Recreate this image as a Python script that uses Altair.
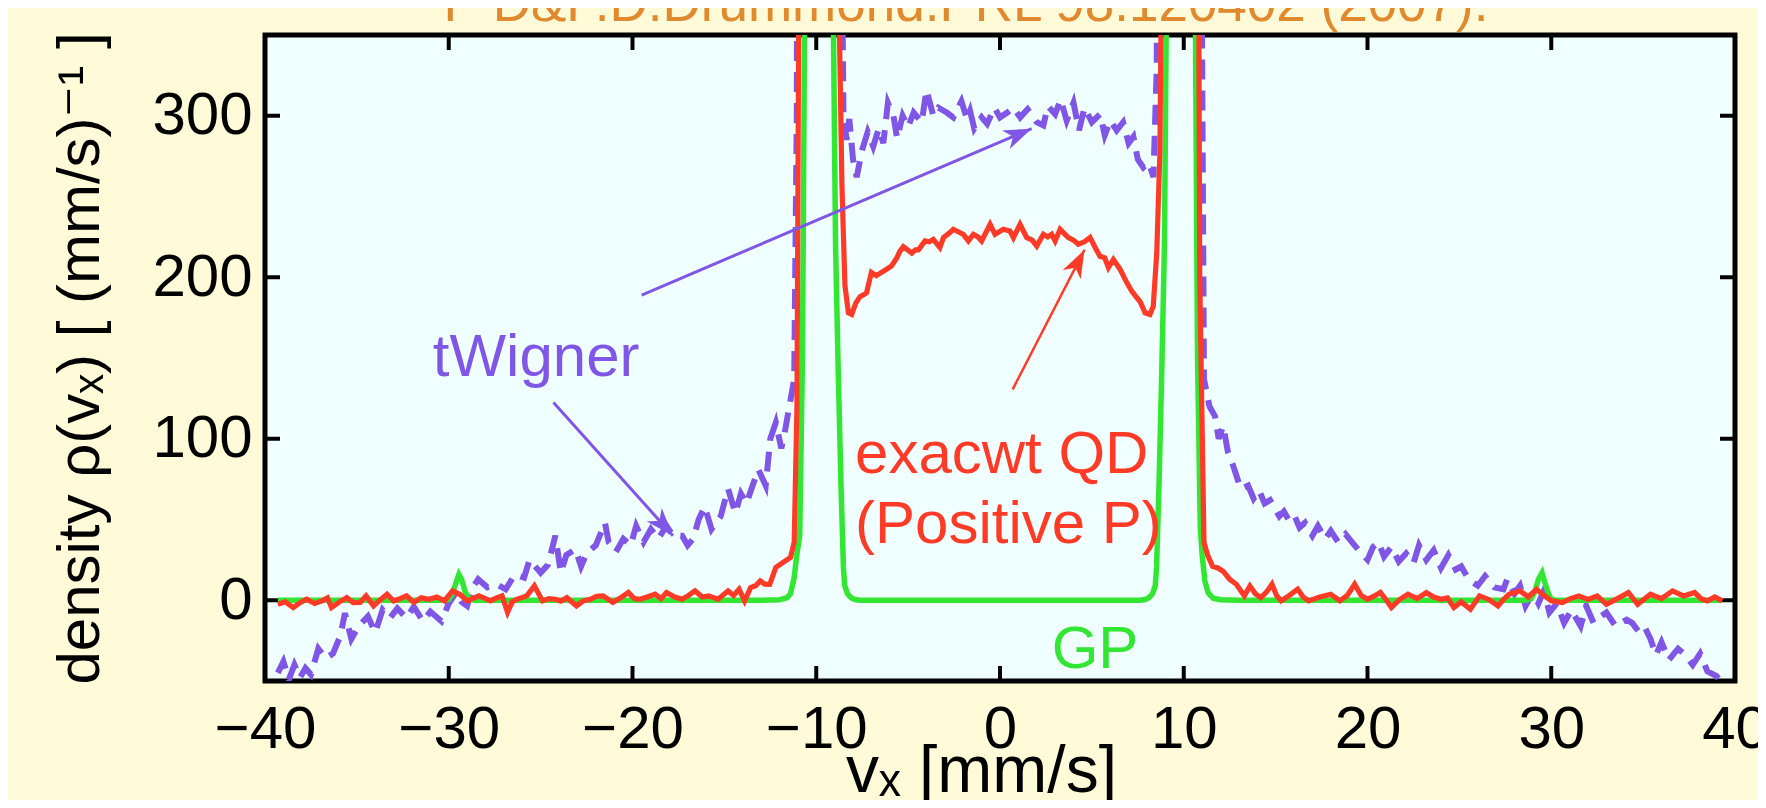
import math
import altair as alt
import pandas as pd

# ---------------- data ----------------
X_TICKS = [-40, -30, -20, -10, 0, 10, 20, 30, 40]
Y_TICKS = [0, 100, 200, 300]

# GP (green, solid)
gp_x = [-39.3, -36, -32, -30.3, -30.0, -29.8, -29.6, -29.45, -29.3, -29.1, -28.9, -28.6, -24, -18, -13,
        -12, -11.6, -11.4, -11.2, -11.07, -10.9, -10.75, -10.6, -10.4, -10.0, -9.5, -9.2, -9.07, -8.95,
        -8.8, -8.65, -8.52, -8.45, -8.3, -8.1, -7.9, -7.6, -4, 0, 4, 7.6, 7.9, 8.1, 8.3, 8.45, 8.52, 8.65,
        8.8, 8.95, 9.05, 9.2, 9.5, 10.0, 10.4, 10.6, 10.75, 10.9, 11.0, 11.15, 11.33, 11.6, 12, 13, 18, 24,
        28.6, 28.9, 29.1, 29.3, 29.5, 29.65, 29.85, 30.0, 30.3, 32, 36, 39.3]
gp_y = [0, 0, 0, 0, 0.5, 4, 11, 16, 13, 5, 1, 0, 0, 0, 0,
        0.3, 1.5, 4, 14, 27, 40, 150, 420, 1500, 2500, 1800, 700, 360, 220,
        140, 70, 20, 9, 4, 1.5, 0.4, 0, 0, 0, 0, 0, 0.4, 1.5, 4, 9, 20, 70,
        140, 220, 360, 700, 1800, 2500, 1500, 420, 150, 45, 28, 12, 4.5, 1.2, 0.3, 0, 0, 0,
        0, 1, 5, 13, 17, 11, 4, 0.5, 0, 0, 0, 0]

# exact QD, positive P (red, solid)
red_x = [-39.3, -38.9, -38.46, -38.1, -37.73, -37.3, -36.9, -36.6, -36.38, -35.95, -35.55, -35.2, -34.82,
         -34.5, -34.09, -33.7, -33.36, -33.0, -32.73, -32.3, -31.9, -31.5, -31.07, -30.65, -30.23, -29.8,
         -29.4, -29.0, -28.7, -28.36, -28.0, -27.73, -27.4, -27.1, -26.8, -26.55, -26.3, -25.75, -25.34,
         -24.9, -24.55, -24.2, -23.9, -23.57, -23.05, -22.7, -22.3, -21.95, -21.6, -21.07, -20.65, -20.23,
         -19.9, -19.6, -19.2, -18.77, -18.45, -18.15, -17.7, -17.3, -16.95, -16.6, -16.2, -15.86, -15.34,
         -14.8, -14.5, -14.2, -13.9, -13.57, -13.3, -13.05, -12.8, -12.53, -12.2, -11.8, -11.4, -11.2,
         -11.05, -10.9, -10.6, -10.0, -9.2, -8.9, -8.75, -8.6, -8.44, -8.25, -8.07, -7.85, -7.62, -7.45,
         -7.26, -7.0, -6.73, -6.45, -6.17, -5.9, -5.62, -5.45, -5.26, -4.8, -4.6, -4.44, -4.08, -3.85,
         -3.63, -3.27, -3.08, -2.8, -2.54, -2.25, -2.0, -1.72, -1.45, -1.2, -1.0, -0.54, -0.27, 0.18,
         0.54, 0.73, 1.09, 1.45, 1.75, 2.0, 2.36, 2.6, 2.81, 3.0, 3.27, 3.5, 3.72, 4.0, 4.26, 4.6, 4.9,
         5.2, 5.44, 5.7, 5.9, 6.17, 6.35, 6.53, 6.9, 7.17, 7.4, 7.62, 7.9, 8.16, 8.34, 8.53, 8.7, 8.8,
         8.95, 9.3, 10.0, 10.5, 10.75, 10.87, 11.1, 11.3, 11.57, 11.85, 12.14, 12.5, 12.86, 13.3, 13.6,
         13.9, 14.2, 14.5, 14.8, 15.05, 15.3, 15.75, 16.2, 16.5, 16.8, 17.4, 18.0, 18.5, 18.9, 19.3,
         19.65, 20.0, 20.35, 20.7, 21.0, 21.3, 21.75, 22.2, 22.7, 23.2, 23.6, 24.0, 24.35, 24.7, 25.1,
         25.6, 26.1, 26.6, 27.1, 27.4, 27.7, 28.3, 28.75, 29.2, 29.6, 30.0, 30.6, 31.05, 31.5, 32.0,
         32.5, 33.0, 33.6, 34.2, 34.7, 35.4, 36.0, 36.6, 37.2, 37.8, 38.15, 38.5, 38.9, 39.3]
red_y = [-2.5, -1.0, -4.5, -1.5, 0.6, -2.0, -0.4, 1.5, -4.5, -1.0, 1.6, -1.5, -1.4,
         2.7, -3.5, 0.5, 3.7, -0.5, 0.6, 2.7, -1.4, 1.5, 0.6, 2.0, -0.4, 5.8,
         3.7, -0.4, 1.0, 2.7, 1.0, -0.4, 1.5, 2.7, -7.5, -1.0, 0.6, 2.7, 8.9,
         -0.4, 1.0, 0.6, -0.5, 1.6, -3.5, -0.5, 0.6, 2.5, 2.7, -1.4, 1.5, 4.8,
         1.0, 0.6, 2.0, 3.7, 1.0, 4.8, 2.0, 0.6, 3.0, 5.8, 2.0, 2.7, 0.6,
         5.8, 3.0, 6.8, -0.4, 7.8, 9.0, 12, 10, 9.9, 20.3, 23.5, 26.6, 36,
         120, 500, 2500, 3000, 2500, 600, 360, 256, 195, 178, 177, 184, 188, 189,
         190.5, 203, 201, 203, 205, 207, 212, 216, 219, 215, 217, 217, 222.5, 222,
         223.5, 218.4, 224.6, 227, 229.7, 228, 226.6, 222.5, 226.6, 225, 222.5, 232.8, 226.6, 229.7,
         228.6, 224.5, 232.8, 224.6, 223, 219.3, 226.6, 225, 226.6, 222.5, 229.7, 227, 224.5, 223, 220.4, 222, 224.6,
         218, 213, 212, 206, 211, 208, 205, 196.7, 191.5, 188, 185, 178, 177, 182, 215, 277, 400,
         800, 2500, 3000, 2500, 600, 200, 35.7, 28, 21, 20, 18, 13, 9.9, 2.7, 8.8,
         4.0, 1.6, 5.0, 9.9, 3.0, -0.4, 3.0, 6.8, 2.0, -0.4, 2.0, 3.7, -0.4, 3.0, 9.9,
         3.0, 0.6, 2.5, 4.8, 0.5, -4.5, 0.5, 3.7, 1.0, 4.8, 2.0, 0.6, 1.5, -4.5, -1.0,
         -5.6, 2.7, 0.5, -3.5, 0.5, 3.7, 5.8, 2.0, 6.8, 3.0, -0.4, -1.4, 1.0, 2.7, 0.5,
         2.7, -2.5, 1.0, 4.8, -2.5, 3.7, 1.0, 5.8, 2.7, 4.8, 1.0, -0.4, 2.0, -0.4]

# truncated Wigner (purple, dashed)
tw_x = [-39.3, -39.0, -38.7, -38.4, -38.1, -37.8, -37.5, -37.1, -36.7, -36.3, -35.9, -35.65, -35.3, -34.9,
        -34.4, -34.0, -33.6, -33.2, -32.8, -32.3, -31.9, -31.4, -31.0, -30.4, -30.0, -29.6, -29.3, -29.0,
        -28.7, -28.4, -27.9, -27.4, -26.9, -26.4, -25.9, -25.6, -25.0, -24.6, -24.2, -23.9, -23.6, -23.1,
        -22.8, -22.5, -22.0, -21.5, -21.3, -20.9, -20.5, -20.1, -19.8, -19.4, -19.0, -18.6, -18.15, -17.8,
        -17.3, -17.0, -16.7, -16.4, -16.07, -15.7, -15.2, -14.8, -14.4, -14.1, -13.8, -13.4, -13.15, -12.75,
        -12.5, -12.2, -11.9, -11.7, -11.4, -11.2, -11.06, -10.9, -10.5, -10.0, -9.3, -8.8, -8.6, -8.52,
        -8.35, -8.2, -8.0, -7.8, -7.5, -7.2, -6.9, -6.6, -6.35, -6.1, -5.8, -5.6, -5.3, -5.0, -4.7, -4.26,
        -4.0, -3.63, -3.35, -2.9, -2.54, -2.1, -1.8, -1.63, -1.4, -1.0, -0.7, -0.3, 0.0, 0.4, 0.73, 1.1,
        1.5, 2.0, 2.36, 2.6, 3.0, 3.3, 3.63, 4.0, 4.3, 4.6, 5.0, 5.45, 5.7, 6.0, 6.35, 6.7, 7.0, 7.26,
        7.5, 7.8, 8.1, 8.35, 8.53, 8.7, 9.2, 10.0, 10.6, 10.97, 11.1, 11.4, 11.7, 11.9, 12.15, 12.4,
        12.7, 12.9, 13.1, 13.5, 13.8, 14.1, 14.4, 14.7, 14.9, 15.2, 15.45, 15.7, 16.0, 16.3, 16.6, 17.0,
        17.3, 17.7, 18.0, 18.4, 18.8, 19.3, 19.6, 20.0, 20.3, 20.6, 20.9, 21.3, 21.7, 22.1, 22.5, 22.8,
        23.2, 23.6, 24.0, 24.4, 24.8, 25.1, 25.5, 26.0, 26.4, 26.9, 27.4, 27.6, 28.0, 28.3, 28.6, 29.0,
        29.3, 29.6, 29.9, 30.3, 30.7, 31.1, 31.6, 31.9, 32.3, 32.7, 33.0, 33.5, 34.1, 34.4, 34.8, 35.1,
        35.4, 35.7, 36.0, 36.4, 36.9, 37.3, 37.7, 38.1, 38.5, 39.0, 39.2]
tw_y = [-45, -38, -49, -40, -48, -42, -46, -30, -36, -33, -22, -8, -24, -16,
        -10, -20, -6, -11, -5, -11, -4, -13, -7, -13, -2, 4.8, -1, -3.5,
        8, 13, 8, 10, 6.8, 16, 14, 25, 17, 22, 40, 17, 28, 31.6,
        21, 29, 34, 48, 36, 30, 38, 34, 46, 36, 44, 38, 46, 40,
        40, 34, 38, 50, 58, 44, 52, 69, 54, 66, 60, 73, 81, 71,
        100, 110, 94, 105, 124, 137, 300, 1200, 3500, 4000, 3500, 900, 400, 302,
        285, 298, 273, 262, 279, 290, 281, 292, 283, 308, 300, 286, 300, 293, 302, 296,
        316, 300, 305, 302, 299, 309, 298, 303, 292, 299, 295, 305, 299, 302, 305, 299,
        304, 296, 294, 306, 301, 310, 297, 308, 291, 305, 296, 301, 288, 297, 291, 296, 283, 287,
        273, 268, 271, 262, 330, 1200, 3500, 4000, 3500, 400, 137, 120, 114, 100, 108, 92,
        83, 76, 69, 71, 63, 68, 60, 62, 58, 52, 55, 50, 53, 45, 48, 40,
        46, 38, 43, 36, 41, 34, 30, 25, 33, 36, 27, 33, 24, 29, 23, 34,
        25, 31, 20, 28, 19, 21, 13, 9, 15, 8, 6.8, 13, 4, 9, -3.5, 4.8,
        -2, 6, -7.6, -2, -14, -6, -16, -3.5, -14, -10, -7.6, -16, -12, -14, -20, -17,
        -24, -34, -26, -37, -30, -34, -40, -33, -44, -47, -50]

# annotations
PURPLE = "#7f56e6"
RED = "#ff3b28"
GREEN = "#33e633"
ann_text = ["tWigner", "exacwt QD", "(Positive P)", "GP"]
ann_x = [-30.87, -7.89, -7.89, 2.81]
ann_y = [138.9, 79.1, 35.7, -41.7]
ann_col = [PURPLE, RED, RED, GREEN]

arr_x0 = [-19.5, -24.3, 0.69]
arr_y0 = [189, 122.4, 130.6]
arr_x1 = [1.72, -17.8, 4.6]
arr_y1 = [292, 40, 217]
arr_col = [PURPLE, PURPLE, RED]
arr_w = [3, 3, 2.5]

TITLE = ["P D&P.D.Drummond.PRL 98.120402 (2007)."]

# ---------------- layout ----------------
W, H = 1470, 646
XD = [-40, 40]
YD = [-50, 350]
FONT = "Liberation Sans, Arial, Helvetica, DejaVu Sans"
PX_X = W / (XD[1] - XD[0])
PX_Y = H / (YD[1] - YD[0])

xscale = alt.Scale(domain=XD, nice=False, zero=False)
yscale = alt.Scale(domain=YD, nice=False, zero=False)

xaxis = alt.Axis(values=X_TICKS, title="vₓ [mm/s]", grid=False, ticks=False, tickSize=0, domain=False,
                 labelFont=FONT, labelFontSize=60, labelColor="black", labelPadding=66,
                 labelBaseline="alphabetic", labelFlush=False, labelOverlap=False, format="d",
                 titleFont=FONT, titleFontSize=66, titleFontWeight="normal", titleColor="black",
                 titleX=716, titleY=110, titleBaseline="alphabetic", titleAlign="center")
yaxis = alt.Axis(values=Y_TICKS, title="density ρ(vₓ) [ (mm/s)⁻¹ ]", grid=False, ticks=False, tickSize=0,
                 domain=False, labelFont=FONT, labelFontSize=60, labelColor="black", labelPadding=13,
                 labelFlush=False, labelOverlap=False, format="d",
                 titleFont=FONT, titleFontSize=60, titleFontWeight="normal", titleColor="black",
                 titleX=-167, titleY=H / 2, titleBaseline="alphabetic", titleAlign="center", titleAngle=270)


def X(f):
    return alt.X(f, type="quantitative", scale=xscale, axis=xaxis)


def Y(f):
    return alt.Y(f, type="quantitative", scale=yscale, axis=yaxis)


tw_df = pd.DataFrame({"x": tw_x, "y": tw_y})
gp_df = pd.DataFrame({"x": gp_x, "y": gp_y})
red_df = pd.DataFrame({"x": red_x, "y": red_y})

tw_line = alt.Chart(tw_df).mark_line(color=PURPLE, strokeWidth=6, strokeDash=[20, 11], clip=True,
                                     strokeCap="butt").encode(x=X("x"), y=Y("y"))
gp_line = alt.Chart(gp_df).mark_line(color=GREEN, strokeWidth=5.5, clip=True).encode(x=X("x"), y=Y("y"))
red_line = alt.Chart(red_df).mark_line(color=RED, strokeWidth=5.2, clip=True).encode(x=X("x"), y=Y("y"))

xt_df = pd.DataFrame({"x": X_TICKS})
yt_df = pd.DataFrame({"y": Y_TICKS})
TL = 15
xt_bot = alt.Chart(xt_df).mark_rule(color="black", strokeWidth=4).encode(
    x=X("x"), y=alt.value(H), y2=alt.value(H - TL))
xt_top = alt.Chart(xt_df).mark_rule(color="black", strokeWidth=4).encode(
    x=X("x"), y=alt.value(0), y2=alt.value(TL))
yt_left = alt.Chart(yt_df).mark_rule(color="black", strokeWidth=4).encode(
    y=Y("y"), x=alt.value(0), x2=alt.value(TL))
yt_right = alt.Chart(yt_df).mark_rule(color="black", strokeWidth=4).encode(
    y=Y("y"), x=alt.value(W), x2=alt.value(W - TL))

ann_df = pd.DataFrame({"x": ann_x, "y": ann_y, "t": ann_text, "c": ann_col})
ann = alt.Chart(ann_df).mark_text(align="left", baseline="alphabetic", font=FONT, fontSize=60).encode(
    x=X("x"), y=Y("y"), text="t:N", color=alt.Color("c:N", scale=None))

arr_df = pd.DataFrame({"x": arr_x0, "y": arr_y0, "x1": arr_x1, "y1": arr_y1, "c": arr_col, "w": arr_w})
arr_df["ang"] = [math.degrees(math.atan2((b - a) * PX_X, (d - c) * PX_Y))
                 for a, b, c, d in zip(arr_x0, arr_x1, arr_y0, arr_y1)]
arr_lines = alt.Chart(arr_df).mark_rule().encode(
    x=X("x"), y=Y("y"), x2="x1", y2="y1", color=alt.Color("c:N", scale=None),
    strokeWidth=alt.StrokeWidth("w:Q", scale=None))
ARROW = "M0,0L-0.36,1L0,0.72L0.36,1Z"
arr_heads = alt.Chart(arr_df).mark_point(shape=ARROW, filled=True, size=3136, opacity=1, strokeWidth=0).encode(
    x=X("x1"), y=Y("y1"), angle=alt.Angle("ang:Q", scale=None), color=alt.Color("c:N", scale=None))

# partially visible heading above the frame (cut by the top edge as in the reference)
title_df = pd.DataFrame({"t": TITLE})
title_mark = alt.Chart(title_df).mark_text(align="center", baseline="alphabetic", font=FONT, fontSize=53,
                                           color="#e0892e").encode(
    text="t:N", x=alt.value(701), y=alt.value(-14))

chart = alt.layer(
    xt_bot, xt_top, yt_left, yt_right, tw_line, gp_line, red_line, ann, arr_lines, arr_heads, title_mark
).properties(
    width=W, height=H,
    autosize=alt.AutoSizeParams(type="none"),
    padding={"left": 257, "top": 27, "right": 23, "bottom": 119},
).configure(background="#fffbd8").configure_view(fill="#f0ffff", stroke="black", strokeWidth=5)

chart.save("out.html", embed_options={"renderer": "svg", "actions": False})
